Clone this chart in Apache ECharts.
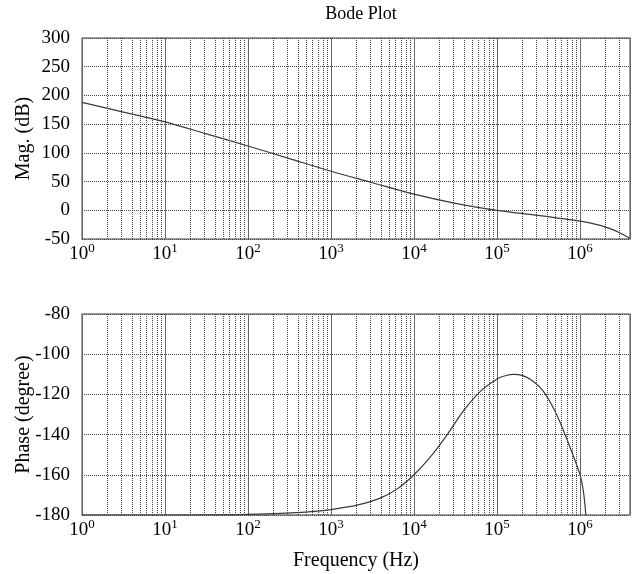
<!DOCTYPE html>
<html>
<head>
<meta charset="utf-8">
<script src="https://cdn.jsdelivr.net/npm/echarts@6/dist/echarts.min.js"></script>
<style>html,body{margin:0;padding:0;background:#fff}#c{width:643px;height:574px}</style>
</head>
<body>
<div id="c"></div>
<script>
// Magnitude data
const magFreq = [1, 3.16, 10, 31.6, 100, 316, 1000, 3162, 1e4, 3.16e4, 1e5, 3.16e5, 1e6, 1.6e6, 2e6, 3e6, 4e6];
const magDb   = [188, 171, 154, 133, 112, 90, 68, 48, 28, 12, 0, -9, -19, -25, -29, -39, -49];
// Phase data
const phaseFreq = [1, 10, 100, 398, 631, 1000, 1585, 2512, 3981, 6310, 1e4, 15850, 25120, 39810, 63100, 1e5, 1.259e5, 1.585e5, 1.995e5, 2.512e5, 3.548e5, 5.012e5, 6.31e5, 7.943e5, 1e6, 1.096e6, 1.175e6];
const phaseDeg  = [-180, -180, -179.7, -178.8, -178.2, -177.3, -176, -174.2, -171.5, -167, -160, -151, -140, -128, -118.5, -112.3, -110.7, -110, -110.5, -112.5, -118, -128.5, -138, -148.5, -160, -168, -180];
// Axis ranges / ticks
const freqMin = 1, freqMax = 4e6;
const magTicks = {min: -50, max: 300, interval: 50};
const phaseTicks = {min: -180, max: -80, interval: 20};
const minorFactors = [2, 3, 4, 5, 6, 7, 8, 9];
const decades = [1, 10, 100, 1e3, 1e4, 1e5, 1e6];
const minorTicks = [];
decades.forEach(d => minorFactors.forEach(f => { if (d * f < freqMax) minorTicks.push(d * f); }));

const FONT = "'Liberation Serif', 'Times New Roman', serif";
const chart = echarts.init(document.getElementById('c'));

function xAxis(idx, withName) {
  return {
    type: 'log', logBase: 10, gridIndex: idx, min: freqMin, max: freqMax,
    splitNumber: 7,
    axisLine: {show: false}, axisTick: {show: false},
    splitLine: {show: true, lineStyle: {color: '#666', width: 1, type: 'solid'}},
    axisLabel: {
      margin: 3, showMaxLabel: false, color: '#000',
      formatter: v => '{b|10}{s|' + Math.round(Math.log10(v)) + '}',
      rich: {
        b: {fontFamily: FONT, fontSize: 19, lineHeight: 22, color: '#000', verticalAlign: 'bottom'},
        s: {fontFamily: FONT, fontSize: 13, lineHeight: 14, color: '#000', verticalAlign: 'top'}
      }
    },
    name: withName ? 'Frequency (Hz)' : '',
    nameLocation: 'middle', nameGap: 36, nameMoveOverlap: false,
    nameTextStyle: {fontFamily: FONT, fontSize: 20, color: '#000'}
  };
}
function yAxis(idx, t, name) {
  return {
    type: 'value', gridIndex: idx, min: t.min, max: t.max, interval: t.interval,
    axisLine: {show: false}, axisTick: {show: false},
    splitLine: {show: true, lineStyle: {color: '#444', width: 1, type: 'dotted'}},
    axisLabel: {margin: 12, color: '#000', fontFamily: FONT, fontSize: 19},
    name: name, nameLocation: 'middle', nameGap: 48, nameMoveOverlap: false,
    nameTextStyle: {fontFamily: FONT, fontSize: 20, color: '#000'}
  };
}
function minorLines() {
  return {
    silent: true, symbol: ['none', 'none'], animation: false,
    label: {show: false},
    lineStyle: {color: '#444', width: 1, type: 'dotted'},
    emphasis: {disabled: true},
    data: minorTicks.map(v => ({xAxis: v}))
  };
}

chart.setOption({
  animation: false,
  backgroundColor: '#fff',
  title: {
    text: 'Bode Plot', left: 356, top: 0, textAlign: 'center',
    textStyle: {fontFamily: FONT, fontSize: 18, fontWeight: 'normal', color: '#000'}
  },
  grid: [
    {left: 82, top: 38, width: 548, height: 201, show: true, borderColor: '#808080', borderWidth: 1.5, backgroundColor: 'transparent', outerBoundsMode: 'none', containLabel: false},
    {left: 82, top: 314, width: 548, height: 201, show: true, borderColor: '#808080', borderWidth: 1.5, backgroundColor: 'transparent', outerBoundsMode: 'none', containLabel: false}
  ],
  xAxis: [xAxis(0, false), xAxis(1, true)],
  yAxis: [yAxis(0, magTicks, 'Mag. (dB)'), yAxis(1, phaseTicks, 'Phase (degree)')],
  series: [
    {
      type: 'line', xAxisIndex: 0, yAxisIndex: 0, showSymbol: false, smooth: 0.3,
      lineStyle: {color: '#3a3a3a', width: 1.2},
      data: magFreq.map((f, i) => [f, magDb[i]]),
      markLine: minorLines()
    },
    {
      type: 'line', xAxisIndex: 1, yAxisIndex: 1, showSymbol: false, smooth: 0.35,
      lineStyle: {color: '#3a3a3a', width: 1.2},
      data: phaseFreq.map((f, i) => [f, phaseDeg[i]]),
      markLine: minorLines()
    }
  ]
});
</script>
</body>
</html>
